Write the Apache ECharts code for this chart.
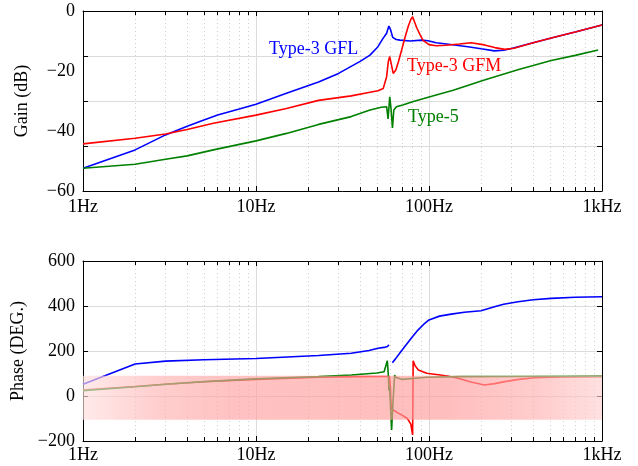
<!DOCTYPE html>
<html>
<head>
<meta charset="utf-8">
<script src="https://cdn.jsdelivr.net/npm/echarts@6/dist/echarts.min.js"></script>
<style>
  html, body { margin: 0; padding: 0; background: #fff; }
  #main { width: 638px; height: 466px; }
</style>
</head>
<body>
<div id="main"></div>
<script>
// frequencies in Hz, gain in dB, phase in degrees
const gflGainHz = [1, 2, 3, 4, 5, 6, 8, 10, 15, 23, 30, 40, 45.6, 50.7, 54, 56.9, 58.6, 60, 61.7, 64.6, 68, 77.9, 90.7, 98.7, 110, 123, 168, 200, 239, 270, 300, 400, 509, 700, 1000]
const gflGain = [-52.4, -46.3, -41.3, -38.4, -36.3, -34.7, -32.7, -31.1, -27.4, -23.7, -20.8, -16.8, -14.7, -11.9, -9.3, -7.4, -5.0, -6.3, -8.8, -9.5, -9.7, -10.0, -9.7, -9.9, -10.6, -10.9, -11.9, -12.6, -13.3, -13.1, -12.5, -10.6, -9.0, -7.0, -4.7]

const gfmGainHz = [1, 2, 3, 4, 5.67, 10, 15, 23, 35.5, 45.6, 50.7, 54.4, 56.9, 58.2, 59.3, 60.3, 62.1, 64.3, 66.5, 69.5, 72.5, 75.8, 78.5, 80.4, 82, 84.8, 88.6, 92.4, 100, 110, 125, 150, 175, 209, 240, 274, 310, 400, 509, 700, 1000]
const gfmGain = [-44.3, -42.4, -41.0, -39.5, -37.4, -34.7, -32.5, -29.8, -28.3, -27.1, -26.6, -25.8, -21.9, -16.8, -15.2, -17.2, -20.8, -19.7, -17.0, -13.0, -9.0, -5.2, -2.8, -1.9, -2.5, -5.5, -7.8, -9.8, -11.2, -11.6, -11.4, -11.0, -10.6, -11.3, -12.2, -12.8, -12.4, -10.6, -9.0, -7.0, -4.7]

const t5GainHz = [1, 2, 3, 4, 5.67, 10, 15, 23, 35.5, 45.6, 53, 56.9, 58, 59.3, 60.2, 61.5, 62.6, 64.8, 70.5, 81.2, 110, 138, 209, 330, 509, 700, 950]
const t5Gain = [-52.4, -51.1, -49.4, -48.3, -46.3, -43.3, -40.8, -37.8, -35.2, -33.0, -32.1, -31.9, -36.0, -28.6, -32.0, -39.0, -33.0, -31.9, -31.3, -30.2, -28.0, -26.4, -23.0, -19.5, -16.5, -14.8, -13.0]

// null = gap in the GFL phase curve
const gflPhaseHz = [1, 2, 3, 5, 10, 23, 35.5, 45, 50.7, 55, 57.5, 58.7, 60, 61.4, 64, 68, 72.3, 80, 86.3, 93, 100, 115, 134.5, 160, 200, 239, 270, 327, 400, 509, 700, 1000]
const gflPhase = [52, 142, 155, 161, 167, 180, 190, 202, 212, 216, 220, 227, null, 148, 165, 192, 219, 262, 293, 318, 338, 355, 364, 372, 379, 397, 408, 419, 428, 434, 439, 441]

const gfmPhaseHz = [1, 2, 3, 5, 10, 23, 40, 55, 59, 59.8, 60.3, 61, 62.1, 66, 69.5, 75, 78.5, 80.4, 81, 83, 86.8, 97, 116, 130, 147, 175, 209, 240, 274, 330, 408, 600, 1000]
const gfmPhase = [27, 42, 52, 63, 74, 84, 86, 87, 87, 40, -40, -58, -65, -75, -84, -100, -125, -173, 157, 135, 116, 101, 93, 88, 79, 62, 49, 55, 64, 74, 81, 85, 86]

const t5PhaseHz = [1, 2, 3, 5, 10, 23, 35.5, 50, 55, 57.4, 58.3, 58.6, 59.2, 59.8, 60.8, 62, 63.3, 64.5, 69.5, 80, 97, 150, 300, 1000]
const t5Phase = [24, 41, 52, 64, 76, 86, 93, 102, 108, 157, 86, 25, 45, -30, -151, -20, 93, 82, 74, 78, 83, 86, 87, 88]

// shaded phase band: [fromHz, topDeg, toHz, bottomDeg]
const phaseBand = [1, 90, 1000, -105]

const curveNames = ['Type-3 GFL', 'Type-3 GFM', 'Type-5']
const curveColors = ['#0000ff', '#ff0000', '#008000']

const FONT = 'Liberation Serif'

function pairs(xs, ys) {
  return xs.map((x, i) => [x, ys[i] === null ? '-' : ys[i]])
}

function minusFmt(v) {
  return v < 0 ? '\u2212' + Math.abs(v) : String(v)
}

function hzFmt(v) {
  return v >= 1000 ? v / 1000 + 'kHz' : v + 'Hz'
}

const gridLine = { show: true, lineStyle: { color: '#dcdcdc', width: 1 } }
const minorGrid = { show: true, lineStyle: { color: '#cfcfcf', width: 1, type: [1, 3] } }
const blackLine = { show: true, onZero: false, lineStyle: { color: '#000', width: 1 } }

/** log frequency axis, bottom one carries labels */
function freqAxis(gridIndex, position, labelMargin) {
  const bottom = position === 'bottom'
  return {
    type: 'log',
    logBase: 10,
    min: 1,
    max: 1000,
    gridIndex: gridIndex,
    position: position,
    axisLine: blackLine,
    axisTick: { show: true, inside: true, length: 5, lineStyle: { color: '#000' } },
    minorTick: { show: true, splitNumber: 9, length: 4, lineStyle: { color: '#000' } },
    axisLabel: {
      show: bottom,
      margin: labelMargin,
      color: '#000',
      fontSize: 18,
      fontFamily: FONT,
      formatter: hzFmt
    },
    splitLine: bottom ? gridLine : { show: false },
    minorSplitLine: bottom ? minorGrid : { show: false }
  }
}

function lineSeries(name, color, data, xi, yi) {
  return {
    name: name,
    type: 'line',
    xAxisIndex: xi,
    yAxisIndex: yi,
    data: data,
    showSymbol: false,
    symbol: 'none',
    connectNulls: false,
    lineStyle: { color: color, width: 1.6 },
    itemStyle: { color: color },
    z: 2
  }
}

// pale translucent band, drawn on top of the phase curves
function renderBand(params, api) {
  const p0 = api.coord([api.value(0), api.value(1)])
  const p1 = api.coord([api.value(2), api.value(3)])
  return {
    type: 'rect',
    shape: { x: p0[0], y: p0[1], width: p1[0] - p0[0], height: p1[1] - p0[1] },
    style: {
      fill: new echarts.graphic.LinearGradient(0, 0, 1, 0, [
        { offset: 0, color: 'rgba(255,222,222,0.65)' },
        { offset: 0.15, color: 'rgba(255,178,178,0.65)' },
        { offset: 0.3, color: 'rgba(255,160,160,0.65)' },
        { offset: 0.7, color: 'rgba(255,155,155,0.65)' },
        { offset: 0.88, color: 'rgba(255,178,178,0.65)' },
        { offset: 1, color: 'rgba(255,208,208,0.65)' }
      ])
    }
  }
}

const chart = echarts.init(document.getElementById('main'), null, { renderer: 'canvas' })

const option = {
  animation: false,
  backgroundColor: '#fff',
  grid: [
    { left: 83, right: 36, top: 11, height: 180 },
    { left: 83, right: 36, top: 261, height: 180 }
  ],
  xAxis: [
    freqAxis(0, 'bottom', 7),
    freqAxis(0, 'top', 7),
    freqAxis(1, 'bottom', 5),
    freqAxis(1, 'top', 5)
  ],
  yAxis: [
    // gain labels every 20 dB
    {
      type: 'value', gridIndex: 0, position: 'left',
      min: -60, max: 0, interval: 20,
      name: 'Gain (dB)', nameLocation: 'middle', nameGap: 52,
      nameTextStyle: { color: '#000', fontSize: 18, fontFamily: FONT },
      axisLine: blackLine,
      axisTick: { show: false },
      axisLabel: { color: '#000', fontSize: 18, fontFamily: FONT, margin: 8, formatter: minusFmt },
      splitLine: { show: false }
    },
    // gain grid + ticks every 15 dB
    {
      type: 'value', gridIndex: 0, position: 'left',
      min: -60, max: 0, interval: 15,
      axisLine: { show: false },
      axisTick: { show: true, inside: true, length: 5, lineStyle: { color: '#000' } },
      axisLabel: { show: false },
      splitLine: gridLine
    },
    {
      type: 'value', gridIndex: 0, position: 'right',
      min: -60, max: 0, interval: 15,
      axisLine: blackLine,
      axisTick: { show: true, inside: true, length: 5, lineStyle: { color: '#000' } },
      axisLabel: { show: false },
      splitLine: { show: false }
    },
    // phase
    {
      type: 'value', gridIndex: 1, position: 'left',
      min: -200, max: 600, interval: 200,
      name: 'Phase (DEG.)', nameLocation: 'middle', nameGap: 52,
      nameTextStyle: { color: '#000', fontSize: 18, fontFamily: FONT },
      axisLine: blackLine,
      axisTick: { show: true, inside: true, length: 5, lineStyle: { color: '#000' } },
      axisLabel: { color: '#000', fontSize: 18, fontFamily: FONT, margin: 8, formatter: minusFmt },
      splitLine: gridLine
    },
    {
      type: 'value', gridIndex: 1, position: 'right',
      min: -200, max: 600, interval: 200,
      axisLine: blackLine,
      axisTick: { show: true, inside: true, length: 5, lineStyle: { color: '#000' } },
      axisLabel: { show: false },
      splitLine: { show: false }
    }
  ],
  series: [
    lineSeries(curveNames[0], curveColors[0], pairs(gflGainHz, gflGain), 0, 0),
    lineSeries(curveNames[1], curveColors[1], pairs(gfmGainHz, gfmGain), 0, 0),
    lineSeries(curveNames[2], curveColors[2], pairs(t5GainHz, t5Gain), 0, 0),
    lineSeries(curveNames[0], curveColors[0], pairs(gflPhaseHz, gflPhase), 2, 3),
    lineSeries(curveNames[1], curveColors[1], pairs(gfmPhaseHz, gfmPhase), 2, 3),
    lineSeries(curveNames[2], curveColors[2], pairs(t5PhaseHz, t5Phase), 2, 3),
    {
      type: 'custom',
      xAxisIndex: 2,
      yAxisIndex: 3,
      z: 10,
      silent: true,
      clip: true,
      renderItem: renderBand,
      encode: { x: [0, 2], y: [1, 3] },
      data: [phaseBand]
    }
  ],
  graphic: [
    { type: 'text', left: 269, top: 40, z: 20, style: { text: curveNames[0], fill: curveColors[0], font: '18px "' + FONT + '"' } },
    { type: 'text', left: 407, top: 57, z: 20, style: { text: curveNames[1], fill: curveColors[1], font: '18px "' + FONT + '"' } },
    { type: 'text', left: 408, top: 108, z: 20, style: { text: curveNames[2], fill: curveColors[2], font: '18px "' + FONT + '"' } }
  ]
}

chart.setOption(option)
</script>
</body>
</html>
